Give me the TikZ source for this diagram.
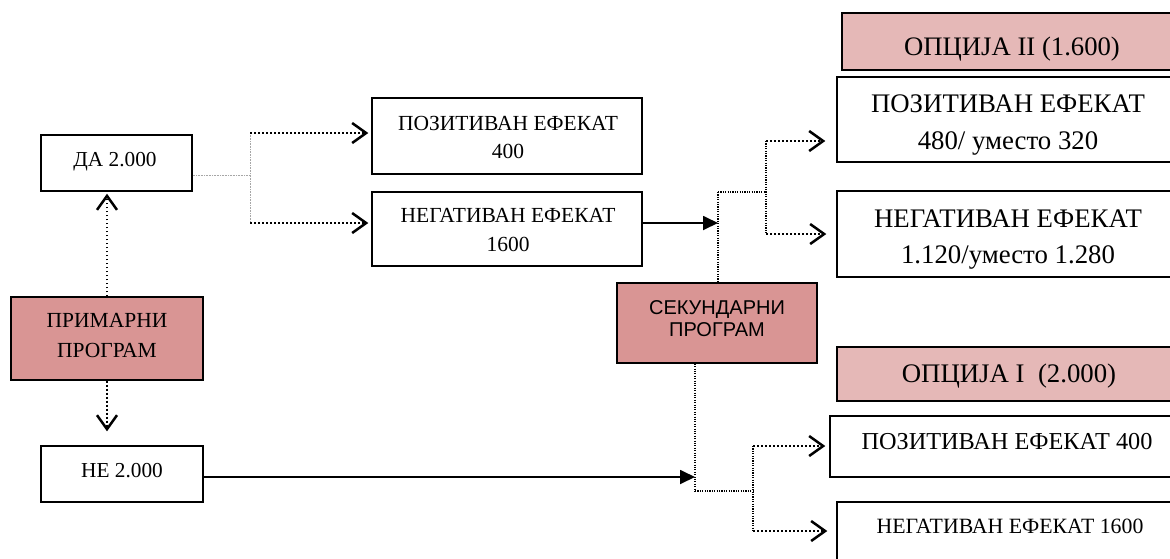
\documentclass[tikz,border=0pt]{standalone}
\usepackage{fontspec}
\setmainfont{Liberation Serif}
\newfontfamily\sekfont{Liberation Sans}
\usetikzlibrary{arrows.meta,calc}
\definecolor{pinkA}{RGB}{217,149,148}
\definecolor{pinkB}{RGB}{229,184,183}
\tikzset{
  box/.style={draw=black, line width=1.4pt, rectangle, inner sep=0pt},
  txt/.style={anchor=base, inner sep=0pt, font=\fontsize{#1}{#1}\selectfont},
  dotarrow/.style={line width=1.8pt, dash pattern=on 1.8pt off 2.2pt,
    -{Straight Barb[length=14pt,width=20pt,line width=2.5pt]}},
  dotline/.style={line width=1.1pt, dash pattern=on 1.1pt off 1.3pt},
  grayline/.style={draw=gray!70, line width=1pt, dash pattern=on 1pt off 0.6pt},
  solidarrow/.style={line width=1.8pt, -{Triangle[length=15pt,width=14pt]}}
}
\begin{document}
\begin{tikzpicture}[x=1pt,y=-1pt]
\useasboundingbox (0,0) rectangle (1170,558);
% boxes
\node[box, minimum width=151pt, minimum height=56pt] (da) at (116.5,163) {};
\node[box, fill=pinkA, minimum width=192pt, minimum height=83pt] (prim) at (107,338.5) {};
\node[box, minimum width=162pt, minimum height=56pt] (ne) at (122,474) {};
\node[box, minimum width=270pt, minimum height=76pt] (lpos) at (507,136) {};
\node[box, minimum width=270pt, minimum height=74pt] (lneg) at (507,229) {};
\node[box, fill=pinkA, minimum width=200pt, minimum height=80pt] (sek) at (717,323) {};
\node[box, fill=pinkB, minimum width=338pt, minimum height=57pt] (opt2) at (1011,41.5) {};
\node[box, minimum width=343pt, minimum height=85pt] (rpos) at (1008.5,119.5) {};
\node[box, minimum width=343pt, minimum height=86pt] (rneg) at (1008.5,234) {};
\node[box, fill=pinkB, minimum width=343pt, minimum height=54pt] (opt1) at (1008.5,374) {};
\node[box, minimum width=350pt, minimum height=61pt] (bpos) at (1005,446.5) {};
\node[box, minimum width=343pt, minimum height=73pt] (bneg) at (1008.5,538.5) {};
% texts
\node[txt=21.3] (tda) at (115,166) {ДА 2.000};
\node[txt=21.3] (tne) at (122,477) {НЕ 2.000};
\node[txt=21.5] (tprim1) at (107,327) {ПРИМАРНИ};
\node[txt=21.5] (tprim2) at (107,357) {ПРОГРАМ};
\node[txt=21.5] (tlpos1) at (508,130) {ПОЗИТИВАН ЕФЕКАТ};
\node[txt=21.5] (tlpos2) at (508,158) {400};
\node[txt=21.5] (tlneg1) at (508,222) {НЕГАТИВАН ЕФЕКАТ};
\node[txt=21.5] (tlneg2) at (508,251) {1600};
\node[txt=20, font=\sekfont\fontsize{20}{20}\selectfont] (tsek1) at (717,314) {СЕКУНДАРНИ};
\node[txt=20, font=\sekfont\fontsize{20}{20}\selectfont] (tsek2) at (717,336) {ПРОГРАМ};
\node[txt=26.7] (topt2) at (1012,55) {ОПЦИЈА II (1.600)};
\node[txt=26.8] (trpos1) at (1008,112) {ПОЗИТИВАН ЕФЕКАТ};
\node[txt=26.8] (trpos2) at (1008,149) {480/ уместо 320};
\node[txt=26.8] (trneg1) at (1008,227) {НЕГАТИВАН ЕФЕКАТ};
\node[txt=26.8] (trneg2) at (1008,263) {1.120/уместо 1.280};
\node[txt=26.8] (topt1) at (1009,382) {ОПЦИЈА I\ \ (2.000)};
\node[txt=24.3] (tbpos) at (1007,449) {ПОЗИТИВАН ЕФЕКАТ 400};
\node[txt=21.8] (tbneg) at (1010,533) {НЕГАТИВАН ЕФЕКАТ 1600};
% junction coordinates
\coordinate (j0) at (250,175);
\coordinate (j0a) at (250,133);
\coordinate (j0b) at (250,223);
\coordinate (j1) at (718,223);
\coordinate (j1top) at (718,192);
\coordinate (j2) at (766,192);
\coordinate (j2a) at (766,141);
\coordinate (j2b) at (766,234);
\coordinate (j3) at (695,477);
\coordinate (j3low) at (695,491);
\coordinate (j4) at (753,491);
\coordinate (j4a) at (753,446);
\coordinate (j4b) at (753,531);
% primary program
\draw[dotarrow, shorten >=2pt] (prim.north) -- (da.south -| prim.north);
\draw[dotarrow, shorten >=14pt] (prim.south) -- (ne.north -| prim.south);
% yes branch
\draw[grayline] (da.east |- j0) -- (j0);
\draw[grayline] (j0a) -- (j0b);
\draw[dotarrow, shorten >=3pt] (j0a) -- (lpos.west |- j0a);
\draw[dotarrow, shorten >=3pt] (j0b) -- (lneg.west |- j0b);
% negative effect -> secondary
\draw[solidarrow] (lneg.east |- j1) -- (j1);
\draw[dotline] (j1top) -- (j1top |- sek.north);
\draw[dotline] (j1top) -- (j2);
\draw[dotline] (j2a) -- (j2b);
\draw[dotarrow, shorten >=11pt] (j2a) -- (rpos.west |- j2a);
\draw[dotarrow, shorten >=10pt] (j2b) -- (rneg.west |- j2b);
% no branch
\draw[solidarrow] (ne.east |- j3) -- (j3);
\draw[dotline] (j3 |- sek.south) -- (j3low);
\draw[dotline] (j3low) -- (j4);
\draw[dotline] (j4a) -- (j4b);
\draw[dotarrow, shorten >=4pt] (j4a) -- (bpos.west |- j4a);
\draw[dotarrow, shorten >=9pt] (j4b) -- (bneg.west |- j4b);
\end{tikzpicture}
\end{document}
